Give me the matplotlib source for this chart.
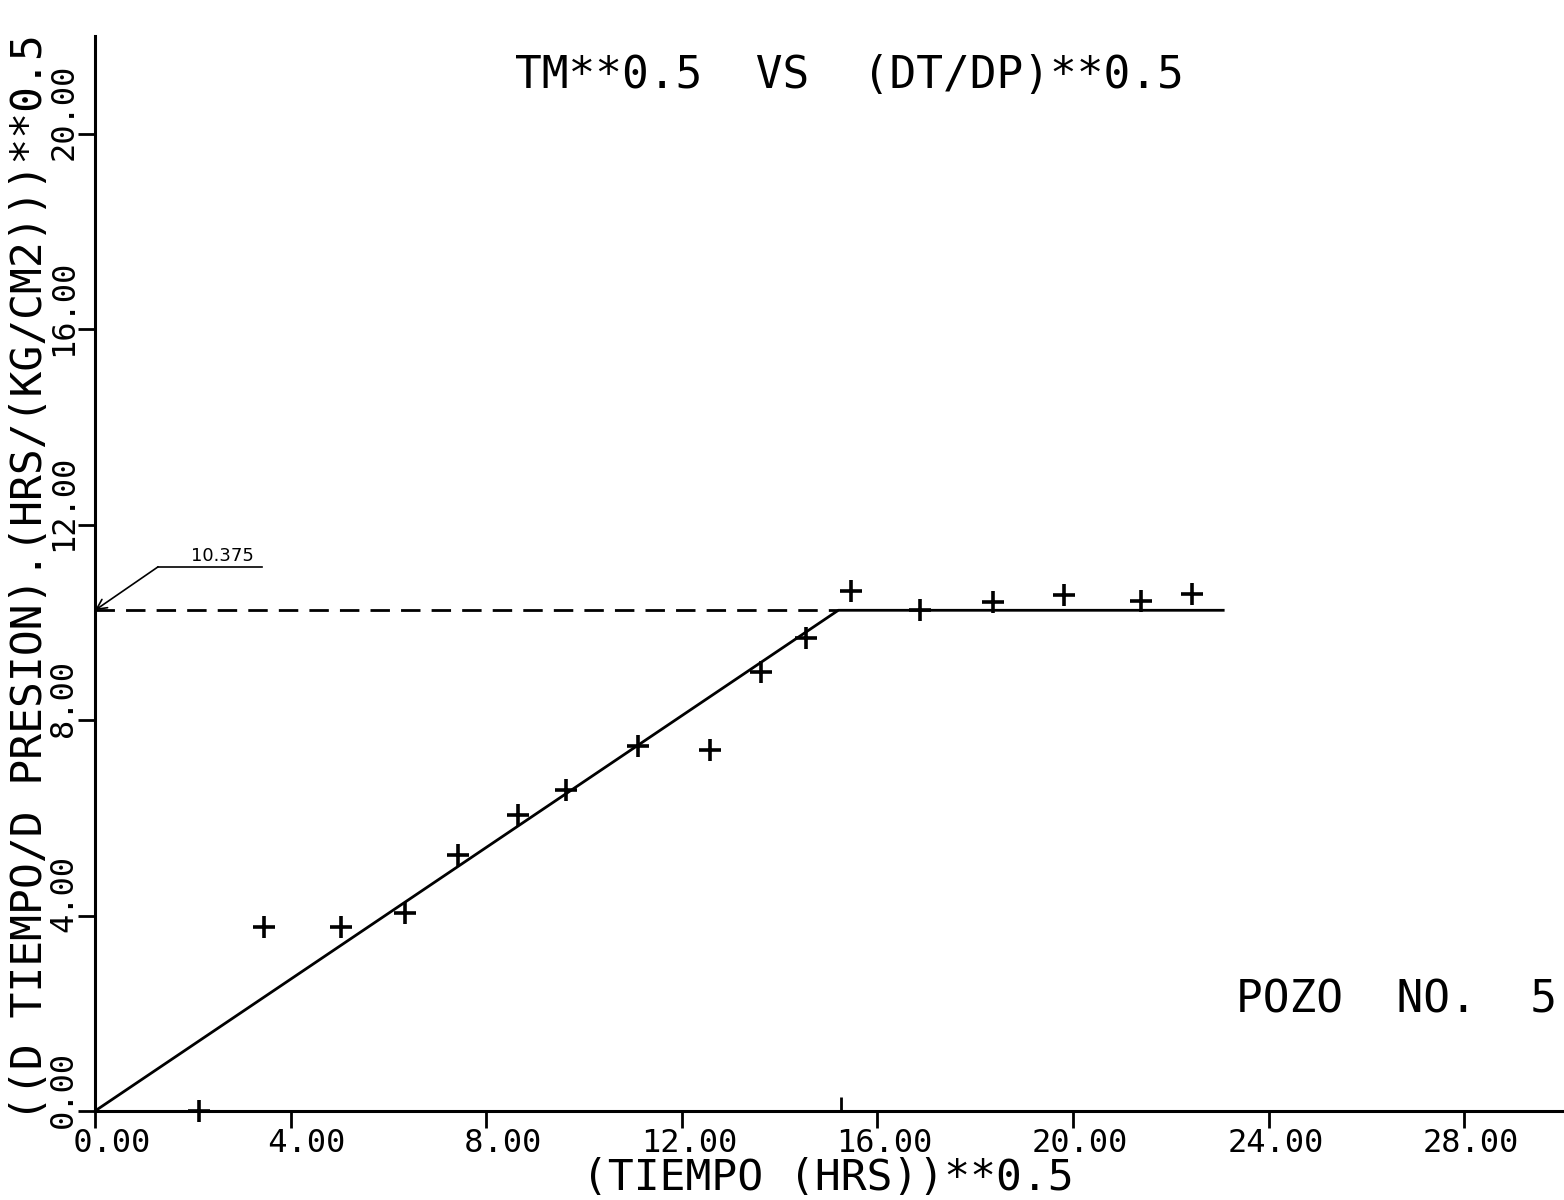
import matplotlib
matplotlib.use("Agg")
import matplotlib.pyplot as plt
from matplotlib.transforms import ScaledTranslation

# ---- data ----
x_pts = [2.13, 3.46, 5.03, 6.34, 7.43, 8.66, 9.63, 11.11, 12.58, 13.61, 14.55,
         15.47, 16.87, 18.37, 19.82, 21.39, 22.43]
y_pts = [0.00, 3.77, 3.77, 4.05, 5.24, 6.06, 6.57, 7.47, 7.40, 8.99, 9.68,
         10.65, 10.26, 10.41, 10.56, 10.44, 10.58]

fit_x = [0.0, 15.2, 23.1]
fit_y = [0.0, 10.25, 10.25]
dash_x = [0.0, 15.2]
dash_y = [10.25, 10.25]
break_x = [15.25]
break_y = [0.0]

x_ticks = [0, 4, 8, 12, 16, 20, 24, 28]
y_ticks = [0, 4, 8, 12, 16, 20]
x_tick_labels = ["%5.2f" % v for v in x_ticks]
y_tick_labels = ["%.2f" % v for v in y_ticks]

title = "TM**0.5  VS  (DT/DP)**0.5"
xlabel = "(TIEMPO (HRS))**0.5"
ylabel = "((D TIEMPO/D PRESION).(HRS/(KG/CM2)))**0.5"
well = "POZO  NO.  5"
annot = "10.375"

FONT = "DejaVu Sans Mono"

fig = plt.figure(figsize=(15.64, 12), dpi=100)
ax = fig.add_axes([95 / 1564, 89 / 1200, 1467 / 1564, 1074.7 / 1200])
ax.set_xlim(0, 30)
ax.set_ylim(0, 22)

for s in ("top", "right"):
    ax.spines[s].set_visible(False)
for s in ("left", "bottom"):
    ax.spines[s].set_linewidth(2.2)
    ax.spines[s].set_color("black")

ax.set_xticks(x_ticks)
ax.set_xticklabels(x_tick_labels, family=FONT, fontsize=23)
ax.set_yticks(y_ticks)
ax.set_yticklabels(y_tick_labels, family=FONT, fontsize=23, rotation=90, va="center")
ax.tick_params(axis="both", direction="out", length=12, width=2, colors="black")
ax.tick_params(axis="x", pad=0)
ax.tick_params(axis="y", pad=0)
# shift x tick labels slightly to the right, y labels up
dx = ScaledTranslation(7 / 100, 0, fig.dpi_scale_trans)
for lab in ax.get_xticklabels():
    lab.set_transform(lab.get_transform() + dx)
dy = ScaledTranslation(1 / 100, 22 / 100, fig.dpi_scale_trans)
for lab in ax.get_yticklabels():
    lab.set_transform(lab.get_transform() + dy)

# fitted lines
ax.plot(fit_x, fit_y, color="black", lw=2.0, solid_capstyle="butt")
ax.plot(dash_x, dash_y, color="black", lw=2.0, dashes=(7, 4))
ax.plot(break_x, break_y, linestyle="none", marker=2, markersize=10,
        mew=2, color="black", clip_on=False)

# data points
ax.plot(x_pts, y_pts, linestyle="none", marker="+", markersize=16, mew=2.6,
        color="black", clip_on=False, zorder=5)

# annotation 10.375
ax.annotate("", xy=(0.0, 10.25), xytext=(1.29, 11.14),
            arrowprops=dict(arrowstyle="->", color="black", lw=1.2,
                            shrinkA=0, shrinkB=0, mutation_scale=18))
ax.plot([1.29, 3.41], [11.14, 11.14], color="black", lw=1.2)
ax.text(2.6, 11.17, annot, family="DejaVu Sans", fontsize=13,
        ha="center", va="bottom")

# texts
fig.text(849 / 1564, 1 - 75 / 1200, title, family=FONT, fontsize=32,
         ha="center", va="center")
fig.text(828 / 1564, 1 - 1178 / 1200, xlabel, family=FONT, fontsize=31,
         ha="center", va="center")
fig.text(30 / 1564, 1 - 578 / 1200, ylabel, family=FONT, fontsize=31,
         ha="center", va="center", rotation=90)
fig.text(1557 / 1564, 1 - 1000 / 1200, well, family=FONT, fontsize=32,
         ha="right", va="center")

fig.savefig("out.png", dpi=100)
